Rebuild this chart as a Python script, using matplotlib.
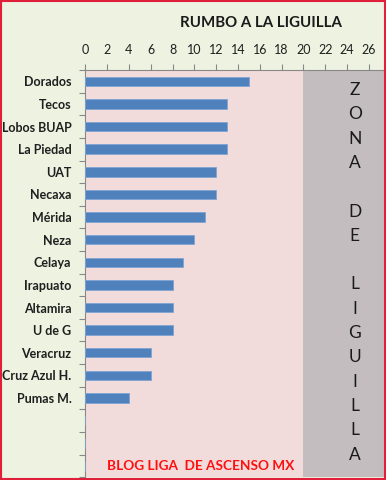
import matplotlib.pyplot as plt
from matplotlib.patches import Rectangle

plt.rcParams['font.family'] = ['Lato', 'DejaVu Sans']

teams = ["Dorados", "Tecos", "Lobos BUAP", "La Piedad", "UAT", "Necaxa", "Mérida",
         "Neza", "Celaya", "Irapuato", "Altamira", "U de G", "Veracruz",
         "Cruz Azul H.", "Pumas M.", "", "", ""]
points = [15, 13, 13, 13, 12, 12, 11, 10, 9, 8, 8, 8, 6, 6, 4, 0, 0, 0]
xticks = list(range(0, 27, 2))
zone_start = 20
zone_letters = ["Z", "O", "N", "A", "", "D", "E", "", "L", "I", "G", "U", "I", "L", "L", "A"]

fig = plt.figure(figsize=(3.86, 4.8), dpi=100, facecolor="#EEF2E1")
ax = fig.add_axes([0.221, 0.006, 0.774, 0.848])
ax.set_facecolor("#F2DCDB")

n = len(teams)
ypos = list(range(n))
ax.barh(ypos, points, height=0.42, color="#4F81BD", edgecolor="#7FA4D3", linewidth=0.6, zorder=3)

xmax = 27.4
ax.add_patch(Rectangle((zone_start, -0.5), xmax - zone_start, n, facecolor="#C4BDBF",
                       edgecolor="none", zorder=1))
ax.set_xlim(0, xmax)
ax.set_ylim(n - 0.5, -0.5)

ax.xaxis.tick_top()
ax.set_xticks(xticks)
ax.set_xticklabels([str(t) for t in xticks], fontsize=9, color="#1F1F1F")
ax.tick_params(axis="x", length=4, width=0.8, color="#888888", pad=6)

ax.set_yticks(ypos)
ax.set_yticklabels(teams, fontsize=9, fontweight="bold", color="#1F1F1F")
ax.set_yticks([y + 0.5 for y in [-1] + ypos], minor=True)
ax.tick_params(axis="y", which="major", length=0, pad=10)
ax.tick_params(axis="y", which="minor", length=4, width=0.8, color="#888888")

for s in ["right", "bottom"]:
    ax.spines[s].set_visible(False)
ax.spines["left"].set_color("#888888")
ax.spines["top"].set_color("#888888")

# vertical "ZONA DE LIGUILLA" text
for i, letter in enumerate(zone_letters):
    if letter:
        ax.text(24.7, 0.38 + i * 1.075, letter, fontsize=12.5, ha="center", va="center",
                color="#1A1A1A", zorder=4)

ax.text(10.6, 17.0, "BLOG LIGA  DE ASCENSO MX", fontsize=9.8, fontweight="bold",
        color="#FF1010", ha="center", va="center", zorder=4)

fig.text(0.675, 0.952, "RUMBO A LA LIGUILLA", fontsize=10.8, fontweight="bold",
         ha="center", va="center", color="#1A1A1A")

# outer frame
fig.add_artist(Rectangle((0.002, 0.002), 0.996, 0.996, transform=fig.transFigure,
                         fill=False, edgecolor="#E0203A", linewidth=1.5))

fig.savefig("out.png", dpi=100, facecolor=fig.get_facecolor())
